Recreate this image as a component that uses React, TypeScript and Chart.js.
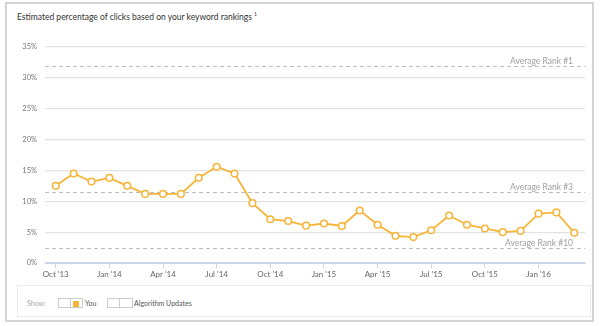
import React, { useEffect, useRef } from "react";
import { Chart, registerables } from "chart.js";
Chart.register(...registerables);

const months = [
  "Oct '13", "Nov '13", "Dec '13", "Jan '14", "Feb '14", "Mar '14", "Apr '14", "May '14", "Jun '14",
  "Jul '14", "Aug '14", "Sep '14", "Oct '14", "Nov '14", "Dec '14", "Jan '15", "Feb '15", "Mar '15",
  "Apr '15", "May '15", "Jun '15", "Jul '15", "Aug '15", "Sep '15", "Oct '15", "Nov '15", "Dec '15",
  "Jan '16", "Feb '16", "Mar '16",
];
const youValues = [
  12.5, 14.5, 13.2, 13.8, 12.5, 11.2, 11.2, 11.2, 13.8, 15.6, 14.5, 9.7, 7.1, 6.8, 6.05,
  6.4, 6.0, 8.5, 6.2, 4.4, 4.2, 5.3, 7.7, 6.2, 5.6, 5.0, 5.2, 8.0, 8.2, 4.9,
];
const tickIndexes = [0, 3, 6, 9, 12, 15, 18, 21, 24, 27];
const refLabels = ["Average Rank #1", "Average Rank #3", "Average Rank #10"];
const refValues = [32, 11.5, 2.4];

const FONT = "Lato, 'Open Sans', sans-serif";

const refLinesPlugin = {
  id: "refLines",
  beforeDatasetsDraw(chart: any) {
    const { ctx, chartArea, scales } = chart;
    ctx.save();
    refValues.forEach((v, i) => {
      const y = Math.round(scales.y.getPixelForValue(v)) + 0.5;
      ctx.beginPath();
      ctx.setLineDash([4, 3]);
      ctx.strokeStyle = "#bdbdbd";
      ctx.lineWidth = 1;
      ctx.moveTo(chartArea.left, y);
      ctx.lineTo(chartArea.right, y);
      ctx.stroke();
      ctx.setLineDash([]);
      ctx.font = `8.5px ${FONT}`;
      ctx.fillStyle = "#a0a0a0";
      ctx.textAlign = "right";
      ctx.textBaseline = "alphabetic";
      ctx.fillText(refLabels[i], chartArea.right - 12, y - 3);
    });
    ctx.restore();
  },
};

export default function App() {
  const ref = useRef<HTMLCanvasElement>(null);
  useEffect(() => {
    document.body.style.margin = "0";
    const chart = new Chart(ref.current!, {
      type: "line",
      data: {
        datasets: [
          {
            label: "You",
            data: youValues.map((v, i) => ({ x: i, y: v })),
            borderColor: "#f7b437",
            backgroundColor: "#ffffff",
            borderWidth: 1.8,
            pointRadius: 3.3,
            pointBorderWidth: 1.5,
            pointBackgroundColor: "#ffffff",
            pointBorderColor: "#f7b437",
            tension: 0,
          },
        ],
      },
      options: {
        animation: false,
        responsive: false,
        layout: { padding: { left: 0, right: 15, top: 47, bottom: 0 } },
        plugins: { legend: { display: false }, tooltip: { enabled: false }, title: { display: false } },
        scales: {
          x: {
            type: "linear",
            min: -0.6,
            max: 29.6,
            afterFit(scale: any) {
              scale.height = 63;
            },
            afterBuildTicks(scale: any) {
              scale.ticks = tickIndexes.map((v) => ({ value: v }));
            },
            ticks: {
              callback: (v: any) => months[v as number],
              font: { family: FONT, size: 8 },
              color: "#666",
              padding: 2,
              maxRotation: 0,
              autoSkip: false,
            },
            grid: { drawOnChartArea: false, drawTicks: true, tickLength: 5, color: "#ccd6eb" },
            border: { display: true, color: "#ccd6eb" },
          },
          y: {
            min: 0,
            max: 35,
            afterFit(scale: any) {
              scale.width = 45;
            },
            ticks: {
              stepSize: 5,
              callback: (v: any) => v + "%",
              font: { family: FONT, size: 7.5 },
              color: "#777",
              padding: 8,
            },
            grid: {
              drawTicks: false,
              color: (c: any) => (c.tick && c.tick.value === 0 ? "#ccd6eb" : "#e3e3e3"),
              lineWidth: 1.2,
            },
            border: { display: false },
          },
        },
      },
      plugins: [refLinesPlugin],
    });
    return () => chart.destroy();
  }, []);

  return (
    <div style={{ position: "absolute", left: 0, top: 0, width: 600, height: 326, background: "#fff", fontFamily: FONT }}>
      <div
        style={{
          position: "absolute", left: 5, top: 2, width: 589, height: 320,
          border: "2px solid #d4d4d4", boxSizing: "border-box",
        }}
      />
      <div style={{ position: "absolute", left: 17, top: 8, fontSize: 8.5, color: "#333", whiteSpace: "nowrap", lineHeight: "12px" }}>
        Estimated percentage of clicks based on your keyword rankings
        <sup style={{ fontSize: 5, marginLeft: 2 }}>1</sup>
      </div>
      <div
        style={{
          position: "absolute", left: 17, top: 285, width: 574, height: 32,
          border: "1px solid #ececec", boxSizing: "border-box",
        }}
      />
      <div style={{ position: "absolute", left: 27, top: 298, fontSize: 7, color: "#aaa", lineHeight: "10px" }}>Show:</div>
      <div style={{ position: "absolute", left: 58, top: 298, width: 25, height: 10, border: "1px solid #ccc", boxSizing: "border-box" }} />
      <div style={{ position: "absolute", left: 70, top: 298, width: 1, height: 10, background: "#ccc" }} />
      <div style={{ position: "absolute", left: 73, top: 301, width: 6, height: 6, background: "#f7b437" }} />
      <div style={{ position: "absolute", left: 85, top: 298, fontSize: 7, color: "#555", lineHeight: "10px" }}>You</div>
      <div style={{ position: "absolute", left: 107, top: 298, width: 26, height: 10, border: "1px solid #ccc", boxSizing: "border-box" }} />
      <div style={{ position: "absolute", left: 119, top: 298, width: 1, height: 10, background: "#ccc" }} />
      <div style={{ position: "absolute", left: 134, top: 298, fontSize: 7, color: "#555", lineHeight: "10px" }}>Algorithm Updates</div>
      <canvas ref={ref} width={600} height={326} style={{ position: "absolute", left: 0, top: 0, width: 600, height: 326 }} />
    </div>
  );
}
